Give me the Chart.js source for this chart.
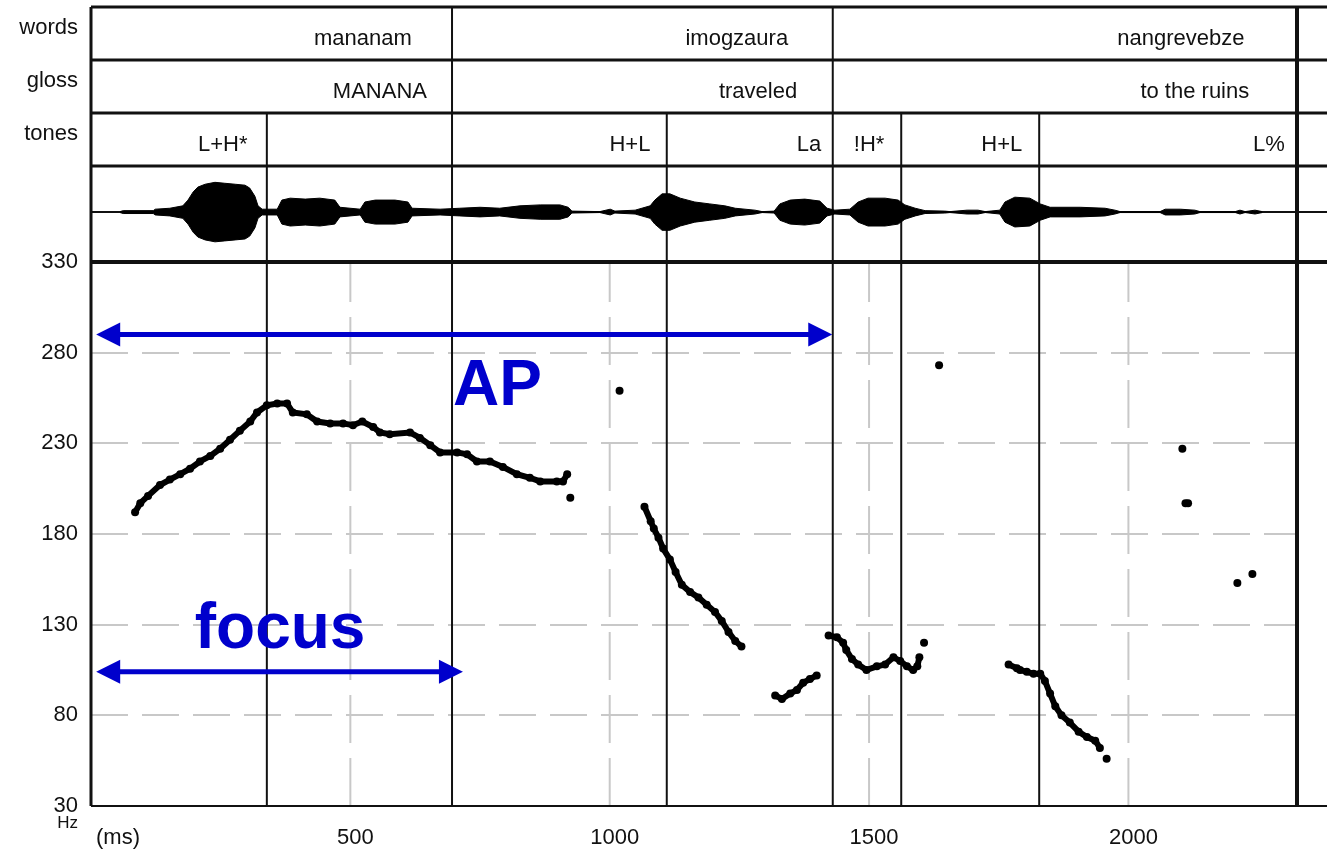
<!DOCTYPE html>
<html>
<head>
<meta charset="utf-8">
<title>Pitch track: mananam imogzaura nangrevebze</title>
<script src="https://cdn.jsdelivr.net/npm/chart.js@4.4.1/dist/chart.umd.min.js"></script>
<style>
	html, body { margin: 0; padding: 0; background: #fff; }
	canvas { display: block; }
</style>
</head>
<body>
<canvas id="pitch" width="1327" height="853"></canvas>
<script>
// --- data ------------------------------------------------------------
const xTicks = [500, 1000, 1500, 2000];
const hzTicks = [30, 80, 130, 180, 230, 280, 330];
const tierNames = ['words', 'gloss', 'tones'];
const soundEnd = 2325;

// TextGrid boundaries (ms)
const wordBounds = [696, 1430];
const toneBounds = [339, 1110, 1562, 1828];

// TextGrid labels and where they sit (ms)
const wordLabels = ['mananam', 'imogzaura', 'nangrevebze'];
const wordLabelMs = [524, 1245, 2101];
const glossLabels = ['MANANA', 'traveled', 'to the ruins'];
const glossLabelMs = [557, 1286, 2128];
const toneLabels = ['L+H*', 'H+L', 'La', '!H*', 'H+L', 'L%'];
const toneLabelMs = [254, 1039, 1384, 1500, 1756, 2271];

// F0 contour, one array per voiced stretch
const contourMs = [
	[85, 95, 110, 133, 152, 172, 191, 210, 230, 249, 268, 287, 307, 320, 339, 359, 378, 389, 416, 436, 461, 486, 505, 523, 544, 557, 576, 615, 634, 654, 673, 706, 725, 744, 769, 794, 821, 846, 866, 898, 910, 918],
	[1067, 1079, 1085, 1094, 1103, 1116, 1127, 1139, 1155, 1171, 1187, 1203, 1216, 1229, 1242, 1254],
	[1319, 1332, 1348, 1361, 1373, 1386, 1399],
	[1422, 1438, 1450, 1456, 1467, 1479, 1495, 1515, 1531, 1547, 1560, 1573, 1585, 1593, 1597],
	[1769, 1785, 1791, 1804, 1817, 1830, 1839, 1849, 1859, 1871, 1887, 1904, 1920, 1936, 1945]
];
const contourHz = [
	[192, 197, 201, 207, 210, 213, 216, 220, 223, 227, 232, 237, 242, 247, 251, 252, 252, 247, 246, 242, 241, 241, 240, 242, 239, 236, 235, 236, 233, 229, 225, 225, 224, 220, 220, 217, 213, 211, 209, 209, 209, 213],
	[195, 187, 183, 178, 172, 166, 159, 152, 148, 145, 141, 137, 132, 126, 121, 118],
	[91, 89, 92, 94, 98, 100, 102],
	[124, 123, 120, 116, 111, 108, 105, 107, 108, 112, 110, 107, 105, 107, 112],
	[108, 106, 105, 104, 103, 103, 99, 92, 85, 80, 76, 71, 68, 66, 62]
];

// stray F0 points
const strayMs = [924, 1019, 1606, 1635, 1958, 2104, 2110, 2115, 2210, 2239];
const strayHz = [200, 259, 120, 273, 56, 227, 197, 197, 153, 158];

// waveform envelope (relative amplitude)
const waveMs = [
	56, 62, 120, 124, 152, 177, 187, 197, 206, 220,
	239, 258, 278, 297, 306, 316, 322, 330, 359, 368,
	384, 413, 441, 470, 480, 519, 528, 548, 586, 611,
	619, 673, 711, 750, 788, 827, 866, 904, 920, 927,
	981, 1001, 1010, 1049, 1078, 1087, 1101, 1116, 1136, 1164,
	1193, 1222, 1242, 1280, 1294, 1317, 1328, 1348, 1376, 1405,
	1419, 1434, 1463, 1479, 1498, 1531, 1556, 1569, 1589, 1608,
	1646, 1656, 1689, 1710, 1724, 1752, 1762, 1781, 1810, 1830,
	1849, 1907, 1955, 1974, 1984, 2061, 2071, 2100, 2128, 2138,
	2206, 2215, 2225, 2244, 2258
];
const waveAmp = [
	.01, .03, .03, .06, .08, .13, .25, .42, .52, .58,
	.62, .60, .58, .56, .50, .33, .13, .06, .06, .25,
	.29, .27, .29, .25, .10, .06, .21, .25, .25, .21,
	.08, .06, .08, .10, .08, .13, .15, .15, .10, .02,
	.01, .06, .02, .04, .13, .25, .38, .38, .29, .21,
	.17, .13, .08, .04, .01, .02, .17, .25, .27, .23,
	.08, .04, .06, .21, .29, .29, .25, .15, .08, .03,
	.02, .01, .04, .04, .01, .04, .21, .31, .29, .17,
	.10, .10, .08, .04, .01, .01, .06, .06, .04, .01,
	.01, .04, .01, .04, .01
];

// blue annotation spans
const spanNames = ['AP', 'focus'];
const spanStartMs = [10, 10];
const spanEndMs = [1429, 717];
const spanHz = [290, 104];
const spanLabelMs = [698, 200];
const spanLabelHz = [251, 117];

// ----------------------------------------------------------------------
const FONT = '"Liberation Sans", Arial, sans-serif';
const INK = '#111';
const BLUE = '#0000cc';

const line = (ctx, x1, y1, x2, y2) => {
	ctx.beginPath();
	ctx.moveTo(x1, y1);
	ctx.lineTo(x2, y2);
	ctx.stroke();
};

// fixed gutter for the stacked left axes, no extra label padding
const leftGutter = s => {
	s.width = 91;
	s.paddingTop = 0;
	s.paddingBottom = 0;
};

const praatFrame = {
	id: 'praatFrame',
	beforeDatasetsDraw(chart) {
		const { ctx, scales: { x, y, wave, tier } } = chart;
		const farRight = chart.width;
		const left = x.getPixelForValue(0);
		const end = x.getPixelForValue(soundEnd);
		const rows = [0, 1, 2, 3].map(v => tier.getPixelForValue(v));
		const pitchTop = y.getPixelForValue(hzTicks[hzTicks.length - 1]);
		const pitchBottom = y.getPixelForValue(hzTicks[0]);
		const waveMid = wave.getPixelForValue(0);

		ctx.save();

		// dashed time grid, only in the pitch panel
		ctx.strokeStyle = '#c8c8c8';
		ctx.lineWidth = 2;
		ctx.setLineDash([48, 15]);
		xTicks.forEach(t => {
			const px = x.getPixelForValue(t);
			line(ctx, px, pitchBottom, px, pitchTop);
		});
		ctx.setLineDash([]);

		ctx.strokeStyle = INK;

		// tier and panel lines
		ctx.lineWidth = 3;
		rows.forEach(r => line(ctx, left, r, farRight, r));
		ctx.lineWidth = 4;
		line(ctx, left, pitchTop, farRight, pitchTop);
		ctx.lineWidth = 2;
		line(ctx, left, waveMid, farRight, waveMid);
		line(ctx, left, pitchBottom, farRight, pitchBottom);
		ctx.lineWidth = 3;
		line(ctx, left, rows[0], left, pitchBottom);
		ctx.lineWidth = 4;
		line(ctx, end, rows[0], end, pitchBottom);

		// interval boundaries
		ctx.lineWidth = 2;
		wordBounds.forEach(t => {
			const px = x.getPixelForValue(t);
			line(ctx, px, rows[0], px, pitchBottom);
		});
		toneBounds.forEach(t => {
			const px = x.getPixelForValue(t);
			line(ctx, px, rows[2], px, pitchBottom);
		});

		// interval labels
		ctx.fillStyle = INK;
		ctx.font = '22px ' + FONT;
		ctx.textAlign = 'center';
		ctx.textBaseline = 'alphabetic';
		const tiers = [[wordLabels, wordLabelMs], [glossLabels, glossLabelMs], [toneLabels, toneLabelMs]];
		tiers.forEach(([labels, times], i) => {
			labels.forEach((txt, j) => ctx.fillText(txt, x.getPixelForValue(times[j]), rows[i] + 38));
		});

		// axis units
		ctx.textAlign = 'left';
		ctx.textBaseline = 'middle';
		ctx.fillText('(ms)', left + 5, 838);
		ctx.textAlign = 'right';
		ctx.font = '17px ' + FONT;
		ctx.fillText('Hz', left - 13, pitchBottom + 17);

		ctx.restore();
	},
	afterDatasetsDraw(chart) {
		const { ctx, scales: { x, y } } = chart;
		ctx.save();
		ctx.strokeStyle = BLUE;
		ctx.fillStyle = BLUE;
		ctx.lineWidth = 5;
		spanNames.forEach((name, i) => {
			const x1 = x.getPixelForValue(spanStartMs[i]);
			const x2 = x.getPixelForValue(spanEndMs[i]);
			const yy = y.getPixelForValue(spanHz[i]);
			line(ctx, x1 + 20, yy, x2 - 20, yy);
			ctx.beginPath();
			ctx.moveTo(x1, yy);
			ctx.lineTo(x1 + 24, yy - 12);
			ctx.lineTo(x1 + 24, yy + 12);
			ctx.closePath();
			ctx.fill();
			ctx.beginPath();
			ctx.moveTo(x2, yy);
			ctx.lineTo(x2 - 24, yy - 12);
			ctx.lineTo(x2 - 24, yy + 12);
			ctx.closePath();
			ctx.fill();

			ctx.font = 'bold 64px ' + FONT;
			ctx.textAlign = 'left';
			ctx.textBaseline = 'alphabetic';
			ctx.fillText(name, x.getPixelForValue(spanLabelMs[i]), y.getPixelForValue(spanLabelHz[i]));
		});
		ctx.restore();
	}
};

const contourSets = contourMs.map((times, i) => ({
	label: 'F0 ' + (i + 1),
	data: times.map((t, j) => ({ x: t, y: contourHz[i][j] })),
	yAxisID: 'y',
	borderColor: '#000',
	backgroundColor: '#000',
	borderWidth: 6,
	pointRadius: 4,
	pointBorderWidth: 0,
	tension: 0
}));

const straySet = {
	label: 'F0 stray',
	data: strayMs.map((t, i) => ({ x: t, y: strayHz[i] })),
	yAxisID: 'y',
	showLine: false,
	backgroundColor: '#000',
	pointRadius: 4,
	pointBorderWidth: 0
};

const waveSets = [1, -1].map(sign => ({
	label: sign > 0 ? 'wave +' : 'wave -',
	data: waveMs.map((t, i) => ({ x: t, y: sign * waveAmp[i] })),
	yAxisID: 'wave',
	borderColor: '#000',
	backgroundColor: '#000',
	borderWidth: 1,
	pointRadius: 0,
	fill: 'origin',
	tension: 0
}));

const tickFont = { family: FONT, size: 22 };

new Chart(document.getElementById('pitch'), {
	type: 'line',
	data: { datasets: [...waveSets, ...contourSets, straySet] },
	options: {
		responsive: false,
		animation: false,
		devicePixelRatio: 1,
		layout: { padding: { left: 0, top: 7, right: 30, bottom: 0 } },
		plugins: {
			legend: { display: false },
			tooltip: { enabled: false }
		},
		scales: {
			x: {
				type: 'linear',
				min: 0,
				max: soundEnd,
				afterBuildTicks: s => { s.ticks = xTicks.map(value => ({ value })); },
				afterFit: s => { s.height = 47; s.paddingLeft = 0; s.paddingRight = 0; },
				ticks: {
					font: tickFont,
					color: INK,
					padding: 19,
					labelOffset: 5,
					maxRotation: 0,
					autoSkip: false,
					callback: v => String(v)
				},
				grid: { display: false, drawTicks: false },
				border: { display: false }
			},
			y: {
				type: 'linear',
				position: 'left',
				stack: 'panels',
				stackWeight: 544,
				weight: 1,
				min: 30,
				max: 330,
				afterBuildTicks: s => { s.ticks = hzTicks.map(value => ({ value })); },
				afterFit: leftGutter,
				ticks: {
					font: tickFont,
					color: INK,
					padding: 13,
					autoSkip: false,
					callback: v => String(v)
				},
				grid: { color: '#c8c8c8', lineWidth: 2, drawTicks: false },
				border: { display: false, dash: [37, 14] }
			},
			wave: {
				type: 'linear',
				position: 'left',
				stack: 'panels',
				stackWeight: 96,
				weight: 2,
				min: -1.04,
				max: 0.96,
				afterFit: leftGutter,
				ticks: { display: false },
				grid: { display: false, drawTicks: false },
				border: { display: false }
			},
			tier: {
				type: 'linear',
				position: 'left',
				stack: 'panels',
				stackWeight: 159,
				weight: 3,
				min: 0,
				max: 3,
				reverse: true,
				afterBuildTicks: s => { s.ticks = [0, 1, 2, 3].map(value => ({ value })); },
				afterFit: leftGutter,
				ticks: {
					font: tickFont,
					color: INK,
					padding: 13,
					labelOffset: 21,
					autoSkip: false,
					callback: (v, i) => tierNames[i] || ''
				},
				grid: { display: false, drawTicks: false },
				border: { display: false }
			}
		}
	},
	plugins: [praatFrame]
});
</script>
</body>
</html>
